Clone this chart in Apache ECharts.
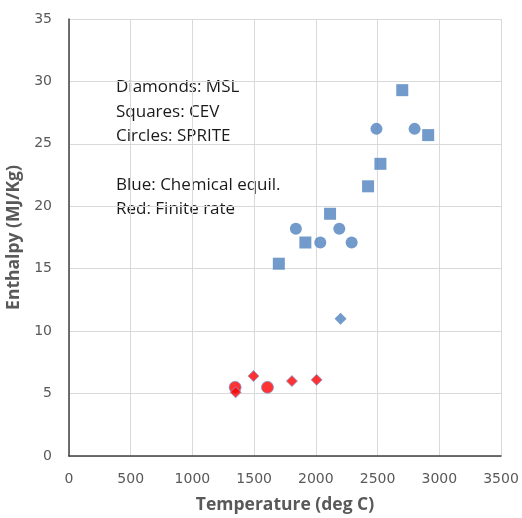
<!DOCTYPE html>
<html>
<head>
<meta charset="utf-8">
<script src="https://cdn.jsdelivr.net/npm/echarts@6/dist/echarts.min.js"></script>
<style>
  html, body { margin: 0; padding: 0; background: #fff; }
  #main { width: 522px; height: 518px; }
</style>
</head>
<body>
<div id="main"></div>
<script>
  // 数据：温度 (deg C) / 焓 (MJ/Kg)
  var squaresBlue = [[1700, 15.4], [1915, 17.1], [2115, 19.4], [2423, 21.6], [2523, 23.4], [2700, 29.3], [2910, 25.7]];
  var circlesBlue = [[1838, 18.2], [2036, 17.1], [2190, 18.2], [2290, 17.1], [2491, 26.2], [2800, 26.2]];
  var diamondsBlue = [[2200, 11.0]];
  var circlesRed = [[1346, 5.5], [1608, 5.5]];
  var diamondsRed = [[1350, 5.1], [1495, 6.4], [1806, 6.0], [2006, 6.1]];
  var notes = ['Diamonds: MSL', 'Squares: CEV', 'Circles: SPRITE', '', 'Blue: Chemical equil.', 'Red: Finite rate'];

  var blue = '#4f81bd';
  var red = '#ff0000';
  var font = 'Open Sans, Liberation Sans, sans-serif';
  var tickFont = 'DejaVu Sans, sans-serif';

  var myChart = echarts.init(document.getElementById('main'));

  var noteY = [91, 116, 140, 164, 189, 213];
  var graphics = [];
  notes.forEach(function (t, i) {
    if (!t) return;
    graphics.push({
      type: 'text', left: 116, top: noteY[i] - 12,
      style: { text: t, fill: '#1a1a1a', font: '17px ' + font }
    });
  });

  var option = {
    animation: false,
    grid: { left: 69, right: 21, top: 19, bottom: 62, outerBoundsMode: 'none' },
    xAxis: {
      type: 'value', min: 0, max: 3500, interval: 500,
      name: 'Temperature (deg C)', nameLocation: 'middle', nameGap: 40,
      nameTextStyle: { fontSize: 17.5, fontWeight: 'bold', color: '#595959', fontFamily: font },
      axisLine: { show: true, onZero: false, lineStyle: { color: '#404040', width: 1.5 } },
      axisTick: { show: false },
      axisLabel: { color: '#595959', fontSize: 14, margin: 16, fontFamily: tickFont,
        formatter: function (v) { return String(v); } },
      splitLine: { show: true, lineStyle: { color: '#d9d9d9', width: 1 } }
    },
    yAxis: {
      type: 'value', min: 0, max: 35, interval: 5,
      name: 'Enthalpy (MJ/Kg)', nameLocation: 'middle', nameGap: 39, nameRotate: 90,
      nameTextStyle: { fontSize: 17.5, fontWeight: 'bold', color: '#595959', fontFamily: font },
      axisLine: { show: true, onZero: false, lineStyle: { color: '#404040', width: 1.5 } },
      axisTick: { show: false },
      axisLabel: { color: '#595959', fontSize: 14, margin: 17, fontFamily: tickFont },
      splitLine: { show: true, lineStyle: { color: '#d9d9d9', width: 1 } }
    },
    graphic: graphics,
    series: [
      { type: 'scatter', data: squaresBlue, symbol: 'rect', symbolSize: 12, itemStyle: { color: blue } },
      { type: 'scatter', data: circlesBlue, symbol: 'circle', symbolSize: 12, itemStyle: { color: blue } },
      { type: 'scatter', data: diamondsBlue, symbol: 'diamond', symbolSize: [12, 12], itemStyle: { color: blue } },
      { type: 'scatter', data: circlesRed, symbol: 'circle', symbolSize: 12,
        itemStyle: { color: red, borderColor: '#7f9fd0', borderWidth: 1 } },
      { type: 'scatter', data: diamondsRed, symbol: 'diamond', symbolSize: [11, 11],
        itemStyle: { color: red, borderColor: '#7f9fd0', borderWidth: 1 } }
    ]
  };
  myChart.setOption(option);
</script>
</body>
</html>
